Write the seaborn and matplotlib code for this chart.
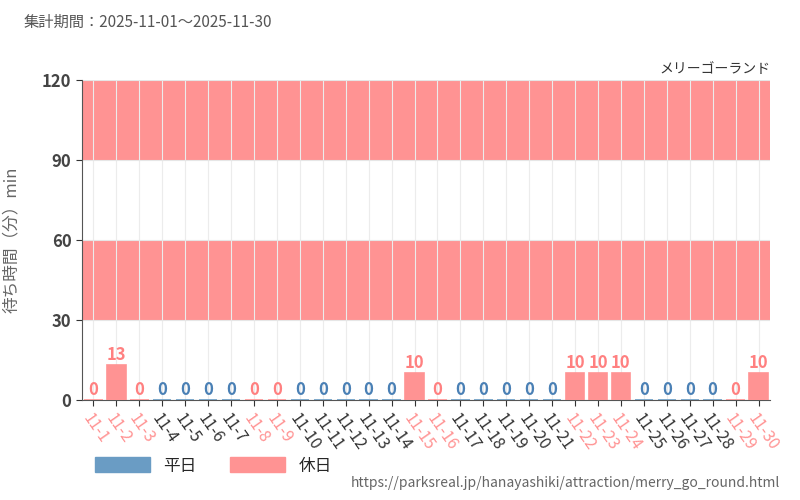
import matplotlib
matplotlib.use('Agg')
import matplotlib.pyplot as plt
import seaborn as sns
import pandas as pd
from matplotlib.patches import Patch

# data
dates = [f"11-{d}" for d in range(1, 31)]
waits = [0, 13, 0, 0, 0, 0, 0, 0, 0, 0, 0, 0, 0, 0, 10,
         0, 0, 0, 0, 0, 0, 10, 10, 10, 0, 0, 0, 0, 0, 10]
holidays = ["11-1", "11-2", "11-3", "11-8", "11-9", "11-15", "11-16",
            "11-22", "11-23", "11-24", "11-29", "11-30"]

df = pd.DataFrame({"date": dates, "wait": waits})
df["kind"] = ["休日" if d in holidays else "平日" for d in dates]

BLUE = "#6a9cc4"
PINK = "#ff9393"
palette = {"平日": BLUE, "休日": PINK}

sns.set_theme(style="white")
plt.rcParams['font.family'] = ['Noto Sans CJK JP', 'DejaVu Sans']

fig = plt.figure(figsize=(8, 5), dpi=100)
ax = fig.add_axes([0.1025, 0.2, 0.86, 0.64])

# alternating background bands
for lo in (30, 90):
    ax.axhspan(lo, lo + 30, color="#f6f6f6", lw=0, zorder=0)

sns.barplot(data=df, x="date", y="wait", hue="kind", palette=palette,
            dodge=False, width=0.8, legend=False, ax=ax, zorder=3,
            linewidth=1.2)
for patch in ax.patches:
    idx = int(round(patch.get_x() + patch.get_width() / 2))
    col = palette[df["kind"][idx]]
    patch.set_facecolor(col)
    patch.set_edgecolor(col)

ax.set_ylim(0, 120)
ax.set_xlim(-0.5, len(dates) - 0.5)
ax.set_yticks([0, 30, 60, 90, 120])
ax.yaxis.grid(True, color="#e6e6e6", lw=0.8, zorder=1)
ax.xaxis.grid(True, color="#ececec", lw=0.8, zorder=1)
ax.set_axisbelow(True)
for s in ("top", "right"):
    ax.spines[s].set_visible(False)
for s in ("left", "bottom"):
    ax.spines[s].set_color("#555555")
    ax.spines[s].set_linewidth(0.8)
ax.tick_params(axis="y", labelsize=12, colors="#333333", length=4, left=True, width=0.8)
ax.tick_params(axis="x", length=4, bottom=True, colors="#333333", width=0.8)
for lab in ax.get_yticklabels():
    lab.set_fontweight("bold")
    lab.set_color("#444444")

ax.set_xticks(range(len(dates)))
ax.set_xticklabels(dates, rotation=-55, ha="left", rotation_mode="anchor", fontsize=11.5)
for lab, k in zip(ax.get_xticklabels(), df["kind"]):
    lab.set_color(PINK if k == "休日" else "#333333")

for i, (v, k) in enumerate(zip(df["wait"], df["kind"])):
    ax.text(i, v + 0.5, str(v), ha="center", va="bottom", fontsize=12, fontweight="bold",
            color="#ff8080" if k == "休日" else "#4a80b5", zorder=4)

ax.set_xlabel("")
ax.set_ylabel("待ち時間（分）min", fontsize=12, color="#666666", labelpad=16)

fig.text(0.03, 0.955, "集計期間：2025-11-01～2025-11-30", fontsize=11, color="#555555", va="center")
fig.text(0.963, 0.862, "メリーゴーランド", fontsize=10, color="#333333", ha="right", va="center")
fig.text(0.975, 0.035, "https://parksreal.jp/hanayashiki/attraction/merry_go_round.html",
         fontsize=10, color="#666666", ha="right", va="center")

handles = [Patch(color=BLUE, label="平日"), Patch(color=PINK, label="休日")]
fig.legend(handles=handles, loc="center left", bbox_to_anchor=(0.1, 0.068), ncol=2,
           frameon=False, fontsize=12, handlelength=3.3, handleheight=1.0, columnspacing=2)

fig.savefig("out.png", dpi=100)
